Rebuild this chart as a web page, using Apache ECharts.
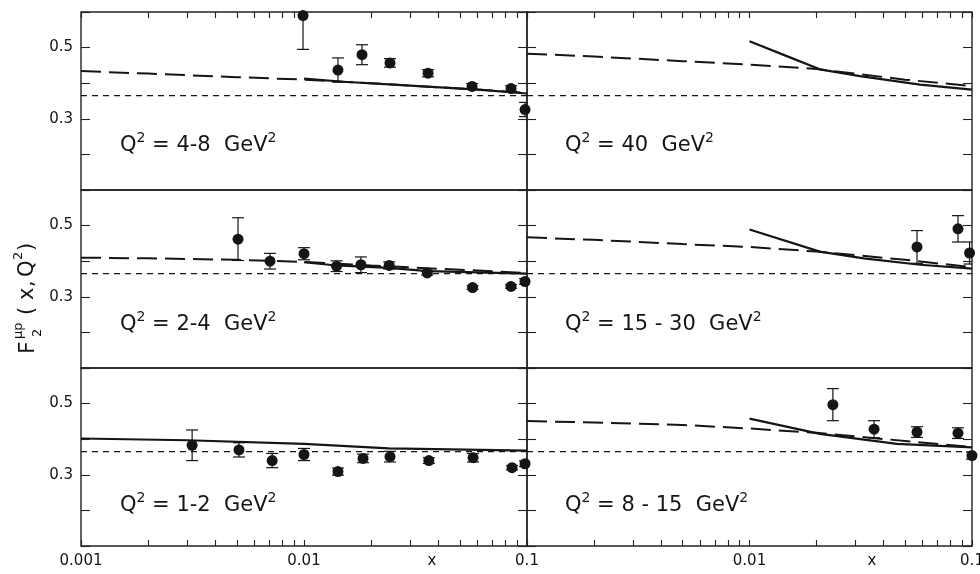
<!DOCTYPE html>
<html>
<head>
<meta charset="utf-8">
<script src="https://cdn.jsdelivr.net/npm/echarts@6/dist/echarts.min.js"></script>
<style>html,body{margin:0;padding:0;background:#fff}#c{width:980px;height:574px}</style>
</head>
<body>
<div id="c"></div>
<script>
// ---------- shared axis data ----------
const X_MIN = 0.001, X_MAX = 0.1;
const Y_MIN = 0.1, Y_MAX = 0.6, Y_STEP = 0.1;
const yTickLabels = ['0.3', '0.5'];
const xTickValues = [0.001,0.002,0.003,0.004,0.005,0.006,0.007,0.008,0.009,
                     0.01,0.02,0.03,0.04,0.05,0.06,0.07,0.08,0.09,0.1];
const xLabelsLeft = [0.001, 0.01, 0.0375, 0.1];   // 0.0375 carries the axis name "x"
const xLabelsRight = [0.01, 0.0355, 0.1];         // 0.0355 carries the axis name "x"
const xNamePos = [0.0375, 0.0355];

// flat reference line (short dashes), same in every panel
const flatX = [0.001, 0.1];
const flatY = [0.365, 0.365];

// ---------- Panel: Q2 = 4-8 (top-left) ----------
const p48_label = '4-8';
const p48_x = [0.0099, 0.0142, 0.0182, 0.0243, 0.036, 0.0567, 0.0848, 0.098];
const p48_y = [0.59, 0.437, 0.48, 0.457, 0.428, 0.391, 0.385, 0.326];
const p48_e = [0.095, 0.034, 0.028, 0.012, 0.01, 0.008, 0.008, 0.02];
const p48_dashX = [0.001, 0.002, 0.005, 0.01, 0.02, 0.05, 0.1];
const p48_dashY = [0.434, 0.427, 0.417, 0.41, 0.4, 0.385, 0.373];
const p48_solX = [0.01, 0.015, 0.03, 0.06, 0.1];
const p48_solY = [0.413, 0.404, 0.393, 0.382, 0.371];

// ---------- Panel: Q2 = 40 (top-right) ----------
const p40_label = '40';
const p40_x = [];
const p40_y = [];
const p40_e = [];
const p40_dashX = [0.001, 0.002, 0.005, 0.01, 0.02, 0.05, 0.1];
const p40_dashY = [0.483, 0.475, 0.462, 0.452, 0.44, 0.41, 0.392];
const p40_solX = [0.01, 0.015, 0.0207, 0.0314, 0.0584, 0.1];
const p40_solY = [0.518, 0.474, 0.439, 0.42, 0.396, 0.382];

// ---------- Panel: Q2 = 2-4 (middle-left) ----------
const p24_label = '2-4';
const p24_x = [0.00506, 0.00704, 0.01, 0.014, 0.018, 0.0241, 0.0357, 0.057, 0.0848, 0.098];
const p24_y = [0.462, 0.40, 0.421, 0.386, 0.39, 0.388, 0.367, 0.326, 0.329, 0.343];
const p24_e = [0.06, 0.022, 0.017, 0.015, 0.022, 0.01, 0.006, 0.005, 0.005, 0.008];
const p24_dashX = [0.001, 0.002, 0.005, 0.01, 0.02, 0.05, 0.1];
const p24_dashY = [0.41, 0.408, 0.404, 0.398, 0.388, 0.376, 0.367];
const p24_solX = [0.01, 0.014, 0.024, 0.036, 0.1];
const p24_solY = [0.397, 0.388, 0.381, 0.372, 0.365];

// ---------- Panel: Q2 = 15-30 (middle-right) ----------
const p1530_label = '15 - 30';
const p1530_x = [0.0566, 0.0865, 0.0975];
const p1530_y = [0.44, 0.491, 0.423];
const p1530_e = [0.046, 0.037, 0.031];
const p1530_dashX = [0.001, 0.002, 0.005, 0.01, 0.02, 0.05, 0.1];
const p1530_dashY = [0.467, 0.46, 0.448, 0.44, 0.427, 0.404, 0.383];
const p1530_solX = [0.01, 0.0207, 0.0326, 0.0584, 0.1];
const p1530_solY = [0.489, 0.427, 0.408, 0.39, 0.379];

// ---------- Panel: Q2 = 1-2 (bottom-left) ----------
const p12_label = '1-2';
const p12_x = [0.00315, 0.00511, 0.0072, 0.01, 0.0142, 0.0184, 0.0243, 0.0363, 0.0573, 0.0857, 0.098];
const p12_y = [0.383, 0.37, 0.34, 0.357, 0.309, 0.346, 0.351, 0.34, 0.348, 0.32, 0.331];
const p12_e = [0.043, 0.02, 0.02, 0.017, 0.01, 0.012, 0.015, 0.008, 0.012, 0.006, 0.008];
const p12_dashX = [];
const p12_dashY = [];
const p12_solX = [0.001, 0.003, 0.01, 0.024, 0.1];
const p12_solY = [0.402, 0.397, 0.387, 0.374, 0.368];

// ---------- Panel: Q2 = 8-15 (bottom-right) ----------
const p815_label = '8 - 15';
const p815_x = [0.0237, 0.0363, 0.0566, 0.0865, 0.1];
const p815_y = [0.497, 0.428, 0.42, 0.417, 0.354];
const p815_e = [0.045, 0.024, 0.015, 0.015, 0.01];
const p815_dashX = [0.001, 0.002, 0.005, 0.01, 0.02, 0.05, 0.1];
const p815_dashY = [0.451, 0.447, 0.44, 0.43, 0.418, 0.395, 0.378];
const p815_solX = [0.01, 0.0207, 0.046, 0.1];
const p815_solY = [0.458, 0.415, 0.387, 0.377];

// ---------- build ----------
const FONT = 'DejaVu Sans';
const INK = '#151515';
const zip = (a, b) => a.map((v, i) => [v, b[i]]);
const zip3 = (a, b, c) => a.map((v, i) => [v, b[i], c[i]]);

const panels = [
  {label: p48_label,   px: p48_x,   py: p48_y,   pe: p48_e,   dx: p48_dashX,   dy: p48_dashY,   sx: p48_solX,   sy: p48_solY},
  {label: p40_label,   px: p40_x,   py: p40_y,   pe: p40_e,   dx: p40_dashX,   dy: p40_dashY,   sx: p40_solX,   sy: p40_solY},
  {label: p24_label,   px: p24_x,   py: p24_y,   pe: p24_e,   dx: p24_dashX,   dy: p24_dashY,   sx: p24_solX,   sy: p24_solY},
  {label: p1530_label, px: p1530_x, py: p1530_y, pe: p1530_e, dx: p1530_dashX, dy: p1530_dashY, sx: p1530_solX, sy: p1530_solY},
  {label: p12_label,   px: p12_x,   py: p12_y,   pe: p12_e,   dx: p12_dashX,   dy: p12_dashY,   sx: p12_solX,   sy: p12_solY},
  {label: p815_label,  px: p815_x,  py: p815_y,  pe: p815_e,  dx: p815_dashX,  dy: p815_dashY,  sx: p815_solX,  sy: p815_solY}
];

const colLeft = [81, 527], colWidth = [446, 445];
const rowTop = [12, 190, 368], rowH = 178;
const labelLeft = [120, 565], labelTop = [131, 310, 491];

function errRender(params, api) {
  const x = api.value(0), y = api.value(1), e = api.value(2);
  const hi = y + e, lo = y - e;
  const pT = api.coord([x, Math.min(hi, Y_MAX)]);
  const pB = api.coord([x, Math.max(lo, Y_MIN)]);
  const hw = 6;
  const st = {stroke: INK, lineWidth: 1.2};
  const ch = [{type: 'line', shape: {x1: pT[0], y1: pT[1], x2: pB[0], y2: pB[1]}, style: st}];
  if (hi <= Y_MAX) ch.push({type: 'line', shape: {x1: pT[0] - hw, y1: pT[1], x2: pT[0] + hw, y2: pT[1]}, style: st});
  if (lo >= Y_MIN) ch.push({type: 'line', shape: {x1: pB[0] - hw, y1: pB[1], x2: pB[0] + hw, y2: pB[1]}, style: st});
  return {type: 'group', children: ch};
}

const grid = [], xAxis = [], yAxis = [], series = [], graphic = [];
const near = (a, b) => Math.abs(a - b) < 1e-6;

panels.forEach((p, i) => {
  const row = Math.floor(i / 2), col = i % 2;
  grid.push({left: colLeft[col], top: rowTop[row], width: colWidth[col], height: rowH,
             containLabel: false, outerBoundsMode: 'none',
             show: true, borderColor: '#222', borderWidth: 1.4, backgroundColor: 'transparent'});
  xAxis.push({
    type: 'log', logBase: 10, min: X_MIN, max: X_MAX, gridIndex: i,
    position: row === 0 ? 'top' : 'bottom',
    axisLine: {show: false},
    axisTick: {show: row !== 1, inside: true, length: 6, customValues: xTickValues,
               lineStyle: {color: '#222', width: 1.1}},
    axisLabel: {show: row === 2, customValues: col === 0 ? xLabelsLeft : xLabelsRight,
                margin: 8, fontSize: 15, fontFamily: FONT, color: INK,
                formatter: v => xNamePos.some(n => near(v, n)) ? 'x' : String(+(+v).toPrecision(3))},
    splitLine: {show: false}, minorTick: {show: false}
  });
  const yBase = {type: 'value', min: Y_MIN, max: Y_MAX, interval: Y_STEP, gridIndex: i,
                 axisLine: {show: false}, splitLine: {show: false}};
  yAxis.push(Object.assign({}, yBase, {
    position: 'left',
    axisTick: {show: true, inside: true, length: 9, lineStyle: {color: '#222', width: 1.1}},
    axisLabel: {show: col === 0, margin: 8, fontSize: 15, fontFamily: FONT, color: INK,
                formatter: v => { const s = (+v).toFixed(1); return yTickLabels.includes(s) ? s : ''; }}
  }));
  yAxis.push(Object.assign({}, yBase, {
    position: 'right',
    axisTick: {show: true, inside: true, length: 9, lineStyle: {color: '#222', width: 1.1}},
    axisLabel: {show: false}
  }));
  const yi = 2 * i;
  series.push({type: 'line', xAxisIndex: i, yAxisIndex: yi, data: zip(flatX, flatY), symbol: 'none',
               silent: true, lineStyle: {color: INK, width: 1.3, type: [6, 5]}});
  if (p.dx.length) series.push({type: 'line', xAxisIndex: i, yAxisIndex: yi, data: zip(p.dx, p.dy), symbol: 'none',
               silent: true, lineStyle: {color: INK, width: 2, type: [20, 8]}});
  if (p.sx.length) series.push({type: 'line', xAxisIndex: i, yAxisIndex: yi, data: zip(p.sx, p.sy), symbol: 'none',
               silent: true, lineStyle: {color: INK, width: 2.2}});
  if (p.px.length) {
    series.push({type: 'custom', xAxisIndex: i, yAxisIndex: yi, data: zip3(p.px, p.py, p.pe),
                 dimensions: ['x', 'y', 'e'], encode: {x: 0, y: 1}, renderItem: errRender, silent: true, clip: true});
    series.push({type: 'scatter', xAxisIndex: i, yAxisIndex: yi, data: zip(p.px, p.py), symbol: 'circle',
                 symbolSize: 11, itemStyle: {color: INK, opacity: 1}, silent: true, z: 5});
  }
  graphic.push({type: 'text', left: labelLeft[col], top: labelTop[row], silent: true,
    style: {text: '{n|Q}{s|2}{n| = ' + p.label + '  GeV}{s|2}', fill: INK,
      rich: {n: {fontSize: 21, fontFamily: FONT, fill: INK, lineHeight: 30, verticalAlign: 'middle'},
             s: {fontSize: 14, fontFamily: FONT, fill: INK, lineHeight: 14, verticalAlign: 'top'}}}});
});

// y-axis title  F_2^{μp}(x, Q^2), rotated
const tStyle = (t, size, x, y) => ({type: 'text', x: x, y: y,
  style: {text: t, fontSize: size, fontFamily: FONT, fill: INK, align: 'left', verticalAlign: 'middle'}});
graphic.push({type: 'group', x: 28, y: 297, rotation: Math.PI / 2, silent: true, children: [
  tStyle('F', 22, -57, 0),
  tStyle('μp', 13, -42, -9),
  tStyle('2', 13, -40, 10),
  tStyle('(', 21, -18, 0),
  tStyle('x', 21, -3, 0),
  tStyle(',', 21, 10, 0),
  tStyle('Q', 21, 20, 0),
  tStyle('2', 13, 37, -9),
  tStyle(')', 21, 46, 0)
]});

const chart = echarts.init(document.getElementById('c'), null, {renderer: 'canvas'});
chart.setOption({animation: false, backgroundColor: '#fff', grid, xAxis, yAxis, series, graphic});
</script>
</body>
</html>
